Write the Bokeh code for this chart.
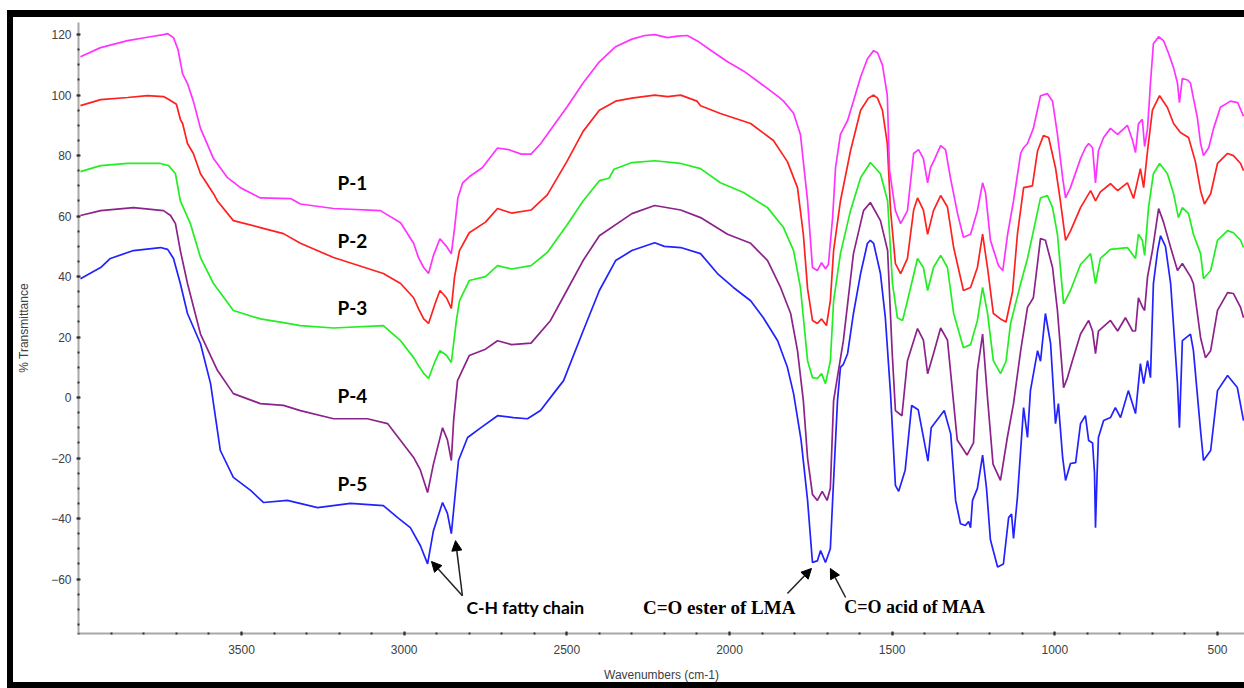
from bokeh.plotting import figure
from bokeh.models import Range1d, FixedTicker, Label, Arrow, NormalHead
from bokeh.embed import file_html
from bokeh.resources import INLINE

# ---- data: (wavenumber cm-1, % transmittance) ----
P1 = [(3995,112.7),(3933,115.7),(3850,118),(3780,119.3),(3740,120),(3727,120.3),(3709,119),(3695,115),(3681,107),
      (3666,103.8),(3648,98),(3626,89),(3586,79),(3543,72.7),(3503,69.4),(3442,66),(3349,65.8),(3319,64),(3217,62.5),
      (3073,61.8),(3011,57.8),(2971,51),(2956,46.3),(2940,43),(2925,41),(2910,47),(2890,52.5),(2870,50),(2855,47.5),
      (2845,56),(2835,66),(2820,71),(2800,73),(2760,76),(2713,82.5),(2680,82),(2640,80.5),(2610,80.5),(2580,84),
      (2540,90),(2500,96),(2450,104),(2400,111),(2350,116),(2300,118.5),(2260,119.7),(2230,120),(2190,119),(2160,119.5),
      (2130,119.7),(2100,118),(2060,115),(2006,111),(1957,108),(1900,103.5),(1850,99.5),(1834,98),(1803,94),(1782,87),
      (1760,65),(1745,43),(1730,42),(1717,44.6),(1705,42.6),(1696,44),(1683,59.5),(1674,76),(1659,87),(1637,91.6),
      (1619,98),(1597,106),(1576,112),(1557,114.7),(1545,114),(1530,110),(1515,100),(1508,75),(1490,61.8),(1474,57.5),
      (1453,61.8),(1434,80.7),(1419,82),(1404,79),(1391,71),(1382,76),(1373,78),(1351,83.3),(1336,82),(1321,72.7),
      (1299,60.8),(1281,53),(1259,54),(1238,61.8),(1222,71),(1213,67.7),(1198,52),(1173,43.6),(1160,42),(1145,54),
      (1127,65),(1105,80.7),(1096,82.6),(1084,84),(1066,89),(1044,99.8),(1023,100.5),(1007,98),(992,87),(976,72.7),
      (967,66),(952,69.4),(921,79),(906,82.6),(896,84),(884,82.6),(875,71),(866,81.6),(850,86),(829,89),(807,87),
      (777,90),(761,85),(752,81),(743,90.5),(731,92),(724,83),(715,89),(706,104),(697,117),(681,119.3),(666,118),
      (651,114),(635,109),(623,104),(617,97.5),(608,105.5),(592,105),(583,104),(574,99),(562,92.6),(552,84),(543,80),
      (527,82.6),(512,89),(491,96),(460,98),(438,97.5),(420,93)]

P2 = [(3995,96.5),(3933,98.5),(3850,99.2),(3789,99.8),(3740,99.5),(3727,98.8),(3700,97),(3688,92),(3681,90.6),
      (3666,84),(3648,80.7),(3626,74),(3586,67.4),(3574,65),(3525,58.5),(3442,56.2),(3371,54.2),(3319,51),(3217,46.3),
      (3064,41),(3011,37.7),(2971,33),(2956,29.4),(2940,26),(2925,24.5),(2905,31),(2890,35.4),(2870,33),(2855,29.5),
      (2845,40),(2830,48.6),(2800,54.5),(2750,58),(2713,62.5),(2670,61),(2610,62),(2560,67),(2500,78),(2450,88),
      (2400,95),(2350,98),(2300,99),(2230,100),(2190,99.5),(2150,100),(2100,98),(2089,96.5),(2028,93.9),(1935,90.6),
      (1865,85),(1822,78),(1791,69.4),(1773,54),(1760,36),(1745,25.5),(1730,24.5),(1717,26),(1702,23.8),(1690,32),
      (1680,48.6),(1659,65),(1628,81.6),(1597,95),(1573,99),(1557,100),(1545,99),(1530,95),(1515,84),(1505,62),
      (1490,44.3),(1474,41),(1453,46),(1434,62),(1422,66),(1404,62),(1391,54),(1373,61.8),(1351,66.8),(1330,63),
      (1311,49.6),(1281,35.4),(1259,36.4),(1238,43),(1222,54),(1207,43),(1189,27.8),(1167,26),(1150,25),(1130,35),
      (1115,54),(1096,69.4),(1069,70),(1053,81.6),(1035,86.6),(1019,86),(998,76),(983,65),(967,52),(952,55),(921,62.8),
      (890,68.4),(875,65),(860,68),(829,70.7),(807,68.4),(777,71),(758,65.8),(737,75.7),(727,69.4),(715,81.6),(700,95),
      (678,99.8),(654,95.9),(635,90.6),(614,87.6),(589,86),(568,78),(552,68.4),(540,64),(521,67.4),(500,77.4),(469,80.7),
      (451,80),(429,77.4),(420,75)]

P3 = [(3995,74.7),(3933,76.7),(3850,77.4),(3749,77.4),(3724,76.7),(3703,74),(3688,65),(3657,57.5),(3626,46.3),
      (3586,37.7),(3525,28.8),(3442,26),(3371,24.8),(3319,23.8),(3217,23),(3064,23.8),(3011,18.8),(2971,13.2),
      (2956,10.6),(2940,8),(2925,6.3),(2905,12),(2890,15.5),(2870,14),(2855,11.6),(2840,25),(2830,32),(2800,38.7),
      (2750,40),(2713,43.6),(2670,42.5),(2610,43.6),(2560,48),(2500,57),(2450,65),(2400,71.7),(2370,72.5),(2355,75.5),
      (2300,77.7),(2230,78.3),(2150,77.4),(2089,75.7),(2028,71),(1957,67.8),(1883,62.8),(1834,56.2),(1803,48.6),
      (1782,36.4),(1760,12.2),(1745,6.6),(1730,6.3),(1717,7.9),(1705,4.6),(1690,12),(1680,32),(1659,47.6),(1628,61.8),
      (1597,72.7),(1567,77.7),(1536,74),(1514,65),(1499,37.7),(1484,26.4),(1468,25.5),(1453,32),(1422,46),(1404,43),
      (1391,35.4),(1373,43),(1351,47),(1330,43),(1311,27.8),(1281,16.5),(1259,17.5),(1238,25.5),(1222,36.4),(1207,28),
      (1189,12.2),(1167,7.9),(1150,12),(1136,24.5),(1105,37.7),(1084,46),(1060,58),(1044,66),(1023,66.8),(1007,62.8),
      (992,54),(973,31),(952,35.4),(921,44),(890,47.6),(875,37.7),(860,46),(829,49),(777,49.6),(752,46),(743,54),
      (731,52),(724,47),(712,62.8),(697,74),(678,77.4),(654,74),(635,67.4),(620,59.5),(608,62.8),(589,60.8),(574,54),
      (552,47.6),(543,39.3),(521,42),(500,52),(469,55.2),(451,54.5),(429,52),(420,49.6)]

P4 = [(3995,60.2),(3933,61.8),(3832,62.8),(3740,61.8),(3718,60.2),(3703,57.5),(3688,48.6),(3666,37.7),(3626,21),
      (3574,9),(3525,1.3),(3442,-2),(3371,-2.6),(3319,-4.3),(3217,-7),(3113,-7),(3051,-8.6),(3011,-14.2),(2971,-19.8),
      (2950,-24),(2928,-31.4),(2910,-22),(2882,-10),(2867,-14),(2855,-20.8),(2848,-7.6),(2836,5.6),(2800,13.9),
      (2750,16),(2713,18.8),(2670,17.5),(2610,18),(2550,25.5),(2500,35.4),(2450,45.3),(2400,53.5),(2300,60.8),
      (2230,63.5),(2150,62),(2089,59.5),(2006,54),(1935,51),(1883,45.3),(1843,36.4),(1812,27.8),(1791,15.5),(1773,-1),
      (1760,-20),(1745,-32),(1730,-34),(1715,-31),(1700,-34),(1690,-30),(1680,-1),(1650,18.8),(1619,47.6),(1588,61.8),
      (1567,64.5),(1536,58.5),(1514,48.6),(1500,15),(1490,-4.3),(1470,-6),(1453,12.2),(1422,22.8),(1404,19),(1391,7.9),
      (1373,14.5),(1351,23),(1330,19),(1300,-14),(1270,-19),(1250,-15),(1238,9),(1222,21),(1207,0),(1190,-22),
      (1167,-27.4),(1146,-13.2),(1127,-2),(1105,15.5),(1084,29.8),(1066,33),(1044,52.6),(1029,52),(1007,43),(992,28.8),
      (973,3.3),(961,6.6),(946,12.2),(921,21),(896,25.5),(884,22),(875,14.5),(866,22),(829,25.5),(807,22),(783,26.4),
      (761,22),(752,22),(743,33),(731,30),(724,28.8),(715,40),(700,48.6),(681,62.5),(666,58),(644,49.6),(623,42),
      (608,44.3),(583,40),(574,37.7),(552,19.8),(537,13.2),(521,15.5),(500,28.8),(469,34.7),(451,34.4),(429,29.8),
      (420,26.4)]

P5 = [(3995,39.3),(3933,43),(3903,46),(3832,48.6),(3749,49.6),(3727,49),(3709,46),(3688,37.7),(3666,27.8),
      (3626,17.8),(3595,4.6),(3565,-17.5),(3525,-26.4),(3472,-30.7),(3432,-34.7),(3359,-34),(3266,-36.4),(3165,-35),
      (3064,-35.7),(3020,-39.7),(2981,-43),(2950,-49),(2928,-55),(2910,-44),(2882,-34.7),(2867,-38.3),(2855,-45),
      (2842,-30.7),(2833,-20.8),(2805,-13.2),(2765,-10),(2713,-6),(2664,-6.6),(2621,-7),(2581,-4.3),(2541,1.3),
      (2510,5.6),(2450,22),(2400,35.4),(2350,45.3),(2300,48.6),(2230,51.2),(2200,50),(2150,49.6),(2089,47.6),
      (2037,41),(1988,36.4),(1935,32),(1896,26.4),(1852,18.8),(1822,10),(1803,1.3),(1780,-14),(1760,-34),(1745,-54.5),
      (1730,-54),(1720,-50.6),(1705,-54.5),(1690,-50),(1683,-34),(1668,-1),(1659,10),(1650,11),(1637,14.5),(1619,27.8),
      (1597,41),(1576,51),(1567,52),(1557,51),(1536,41),(1521,26.4),(1505,1.3),(1490,-29),(1480,-31),(1460,-24),
      (1440,-2.6),(1420,-4),(1390,-21),(1380,-10),(1340,-4.3),(1320,-12),(1305,-34),(1290,-41.7),(1275,-42.3),
      (1265,-41),(1259,-43),(1253,-34),(1238,-30),(1222,-19),(1210,-30),(1198,-47),(1176,-56),(1158,-55),(1142,-39.7),
      (1133,-38.5),(1127,-46.6),(1115,-33),(1096,-3.3),(1084,-13.2),(1075,2.3),(1053,15.5),(1044,12),(1029,27.8),
      (1013,17.8),(998,-8.6),(989,-2),(976,-19.8),(967,-27.4),(952,-21.8),(936,-21.5),(921,-8.6),(906,-6),(896,-14.2),
      (884,-15),(878,-25),(875,-43),(870,-25),(866,-13.2),(850,-7.6),(829,-6.6),(814,-3.3),(798,-6.6),(774,2.3),
      (752,-5.3),(737,11.2),(727,4.6),(715,12.2),(706,6.6),(697,37.7),(684,48.6),(675,53.5),(660,50),(644,37.7),
      (623,4.6),(617,-10),(608,18.8),(583,21),(574,15.5),(552,-11),(543,-20.8),(521,-17.5),(500,2.3),(469,7.3),
      (439,3.3),(420,-7.6)]

series_names = ["P-1", "P-2", "P-3", "P-4", "P-5"]
series_data = [P1, P2, P3, P4, P5]
series_colors = ["#ff33ff", "#ff2020", "#22ee22", "#8b238b", "#2222ff"]

# label anchors (wavenumber, %T)
label_x = 3159
label_y = [71, 52, 29.8, 0.7, -28.4]

x_ticks = [3500, 3000, 2500, 2000, 1500, 1000, 500]
y_ticks = [-60, -40, -20, 0, 20, 40, 60, 80, 100, 120]

p = figure(width=1237, height=678, output_backend="svg", toolbar_location=None,
           x_range=Range1d(4001, 417), y_range=Range1d(-78, 124),
           min_border_left=65, min_border_right=6, min_border_top=5, min_border_bottom=62,
           x_axis_label="Wavenumbers (cm-1)", y_axis_label="% Transmittance")
p.styles = {"margin-top": "10px", "margin-left": "7px",
            "border-top": "7px solid black", "border-left": "6px solid black",
            "border-bottom": "6px solid black"}
p.outline_line_color = None
p.grid.visible = False
p.background_fill_color = "white"
p.border_fill_color = "white"

p.xaxis.ticker = FixedTicker(ticks=x_ticks, minor_ticks=list(range(4000, 400, -100)))
p.yaxis.ticker = FixedTicker(ticks=y_ticks, minor_ticks=list(range(-75, 125, 5)))
for ax in (p.xaxis[0], p.yaxis[0]):
    ax.axis_line_color = "#a8a8a8"
    ax.axis_line_width = 2
    ax.major_tick_line_color = "#333333"
    ax.major_tick_line_width = 2
    ax.major_tick_in = 2
    ax.major_tick_out = 2
    ax.minor_tick_line_color = "#333333"
    ax.minor_tick_line_width = 2
    ax.minor_tick_in = 1
    ax.minor_tick_out = 1
    ax.major_label_text_font = "Liberation Sans"
    ax.major_label_text_font_size = "12px"
    ax.major_label_text_color = "#404040"
    ax.axis_label_text_font = "Liberation Sans"
    ax.axis_label_text_font_size = "12px"
    ax.axis_label_text_font_style = "normal"
    ax.axis_label_text_color = "#404040"
p.xaxis.major_label_standoff = 9
p.xaxis.axis_label_standoff = 11
p.yaxis.major_label_standoff = 5
p.yaxis.axis_label_standoff = 17

for data, color in zip(series_data[::-1], series_colors[::-1]):
    xs = [d[0] for d in data]
    ys = [d[1] for d in data]
    p.line(xs, ys, line_color=color, line_width=1.7)

for name, ly in zip(series_names, label_y):
    p.add_layout(Label(x=label_x, y=ly, text=name, text_font="Lato", text_font_style="bold",
                       text_font_size="19px", text_align="center", text_baseline="middle",
                       text_color="black"))

# peak annotations
p.add_layout(Label(x=2627, y=-69.4, text="C-H fatty chain", text_font="Lato", text_font_style="bold",
                   text_font_size="17.5px", text_align="center", text_baseline="middle", text_color="black"))
p.add_layout(Label(x=2031, y=-69.4, text="C=O ester of LMA", text_font="Liberation Serif",
                   text_font_style="bold", text_font_size="19px", text_align="center",
                   text_baseline="middle", text_color="black"))
p.add_layout(Label(x=1431, y=-69.4, text="C=O acid of MAA", text_font="Liberation Serif",
                   text_font_style="bold", text_font_size="18px", text_align="center",
                   text_baseline="middle", text_color="black"))

arrows = [((2821, -65.5), (2916, -54.2)), ((2821, -65.5), (2842, -47.3)),
          ((1822, -64.8), (1748, -56.5)), ((1643, -66.1), (1690, -56.5))]
for (xs_, ys_), (xe_, ye_) in arrows:
    p.add_layout(Arrow(end=NormalHead(size=10, fill_color="black", line_color="black"),
                       x_start=xs_, y_start=ys_, x_end=xe_, y_end=ye_,
                       line_color="#222222", line_width=1.5))

open("out.html", "w").write(file_html(p, INLINE))
